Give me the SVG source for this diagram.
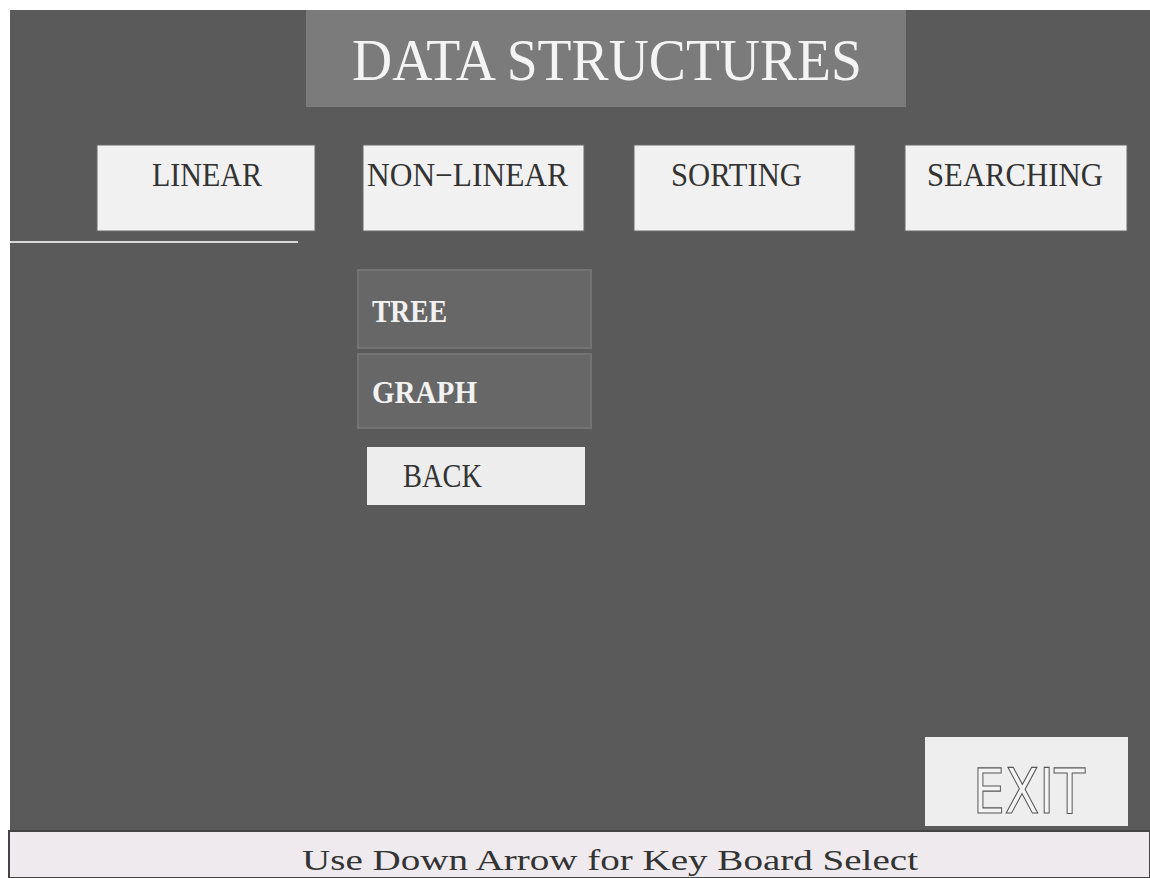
<svg xmlns="http://www.w3.org/2000/svg" width="1150" height="878" viewBox="0 0 1150 878">
<style>
.btn{fill:#f1f1f1;stroke:#6a6a6a;stroke-width:1}
.btxt{font-family:"Liberation Serif",serif;font-size:33px;fill:#333333}
.sub{fill:#676767;stroke:#737373;stroke-width:2}
.stxt{font-family:"Liberation Serif",serif;font-size:32px;font-weight:bold;fill:#f2f2f2}
</style>
<rect x="0" y="0" width="1150" height="878" fill="#ffffff"/>
<rect x="10" y="10" width="1140" height="822" fill="#5a5a5a"/>
<line x1="10" y1="242" x2="298" y2="242" stroke="#d8d8d8" stroke-width="2"/>
<g id="title">
<rect x="306" y="10" width="600" height="97" fill="#7b7b7b"/>
<text x="352" y="80" font-family="Liberation Serif,serif" font-size="60" fill="#f4f4f4" textLength="510" lengthAdjust="spacingAndGlyphs">DATA STRUCTURES</text>
</g>
<g id="linear"><rect class="btn" x="97" y="145" width="218" height="86"/><text class="btxt" x="152" y="186" textLength="110" lengthAdjust="spacingAndGlyphs">LINEAR</text></g>
<g id="nonlinear"><rect class="btn" x="363" y="145" width="221" height="86"/><text class="btxt" x="367" y="186" textLength="201" lengthAdjust="spacingAndGlyphs">NON−LINEAR</text></g>
<g id="sorting"><rect class="btn" x="634" y="145" width="221" height="86"/><text class="btxt" x="671" y="186" textLength="131" lengthAdjust="spacingAndGlyphs">SORTING</text></g>
<g id="searching"><rect class="btn" x="905" y="145" width="222" height="86"/><text class="btxt" x="927" y="186" textLength="176" lengthAdjust="spacingAndGlyphs">SEARCHING</text></g>
<g id="tree"><rect class="sub" x="358" y="270" width="233" height="78"/><text class="stxt" x="372" y="322" textLength="75" lengthAdjust="spacingAndGlyphs">TREE</text></g>
<g id="graph"><rect class="sub" x="358" y="354" width="233" height="74"/><text class="stxt" x="372" y="403" textLength="105" lengthAdjust="spacingAndGlyphs">GRAPH</text></g>
<g id="back"><rect x="367" y="447" width="218" height="58" fill="#ededed"/><text class="btxt" x="403" y="487" textLength="79" lengthAdjust="spacingAndGlyphs">BACK</text></g>
<g id="exit"><rect x="925" y="737" width="203" height="89" fill="#eeeeee"/><text x="973" y="813" font-family="DejaVu Sans,sans-serif" font-size="63" fill="#f4f4f4" stroke="#555" stroke-width="1.2" textLength="112" lengthAdjust="spacingAndGlyphs">EXIT</text></g>
<g id="status"><rect x="9" y="831" width="1141" height="47" fill="#eeeaee" stroke="#444" stroke-width="2"/><text x="302" y="870" font-family="Liberation Serif,serif" font-size="29" fill="#333" textLength="616" lengthAdjust="spacingAndGlyphs">Use Down Arrow for Key Board Select</text></g>
<g id="connectors"></g>
</svg>
